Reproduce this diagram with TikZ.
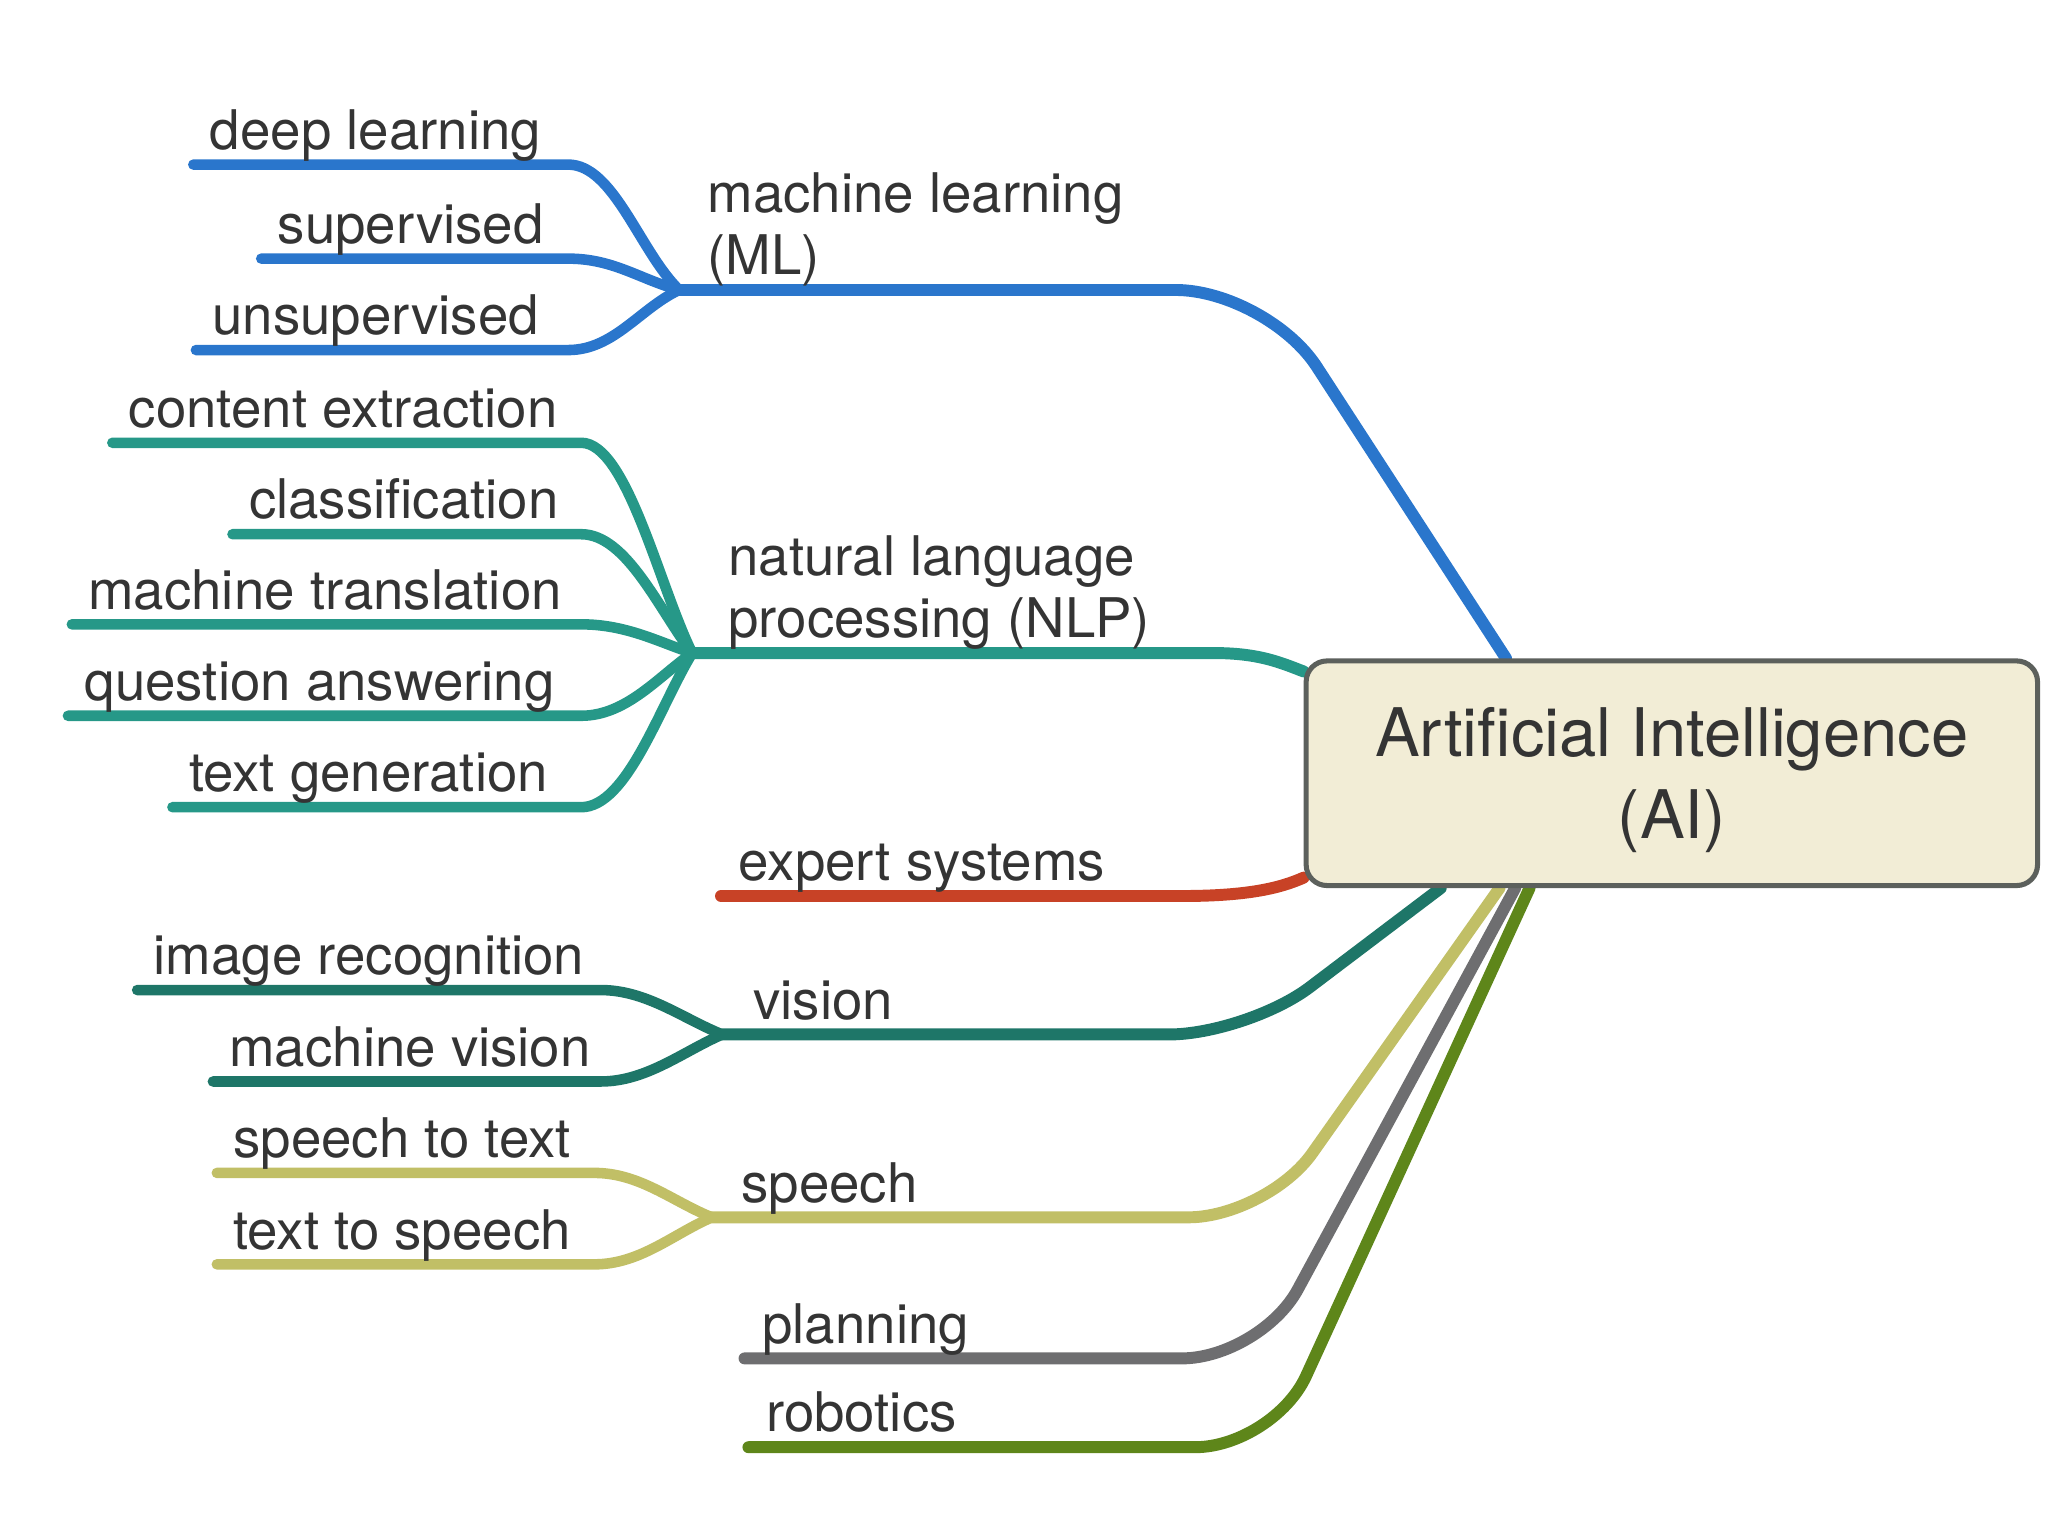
\documentclass[tikz,border=0pt]{standalone}
\usepackage{fontspec}
\setmainfont{TeX Gyre Heros}
\usetikzlibrary{calc,positioning,backgrounds}
\definecolor{mlblue}{RGB}{42,118,204}
\definecolor{nlpteal}{RGB}{38,152,136}
\definecolor{exred}{RGB}{200,66,38}
\definecolor{visteal}{RGB}{30,118,104}
\definecolor{spkhaki}{RGB}{193,191,102}
\definecolor{plgray}{RGB}{110,110,112}
\definecolor{roolive}{RGB}{94,134,26}
\definecolor{aifill}{RGB}{242,237,214}
\definecolor{aidraw}{RGB}{92,96,92}
\definecolor{txt}{RGB}{52,52,52}

\begin{document}
\begin{tikzpicture}[
    x=0.1mm, y=-0.1mm,
    every node/.style={text=txt},
    root/.style={rectangle, draw=aidraw, line width=1.1pt, fill=aifill, rounded corners=1.6mm, minimum width=56mm, minimum height=17.2mm, align=center, text depth=0pt, font=\fontsize{14.6}{17.9}\selectfont},
    leaf/.style={anchor=south west, inner xsep=1.2mm, inner ysep=0pt, text depth=1.1mm, font=\fontsize{11.9}{13.6}\selectfont},
    topic/.style={anchor=south west, inner xsep=1.3mm, inner ysep=0pt, text depth=1.1mm, align=left, font=\fontsize{11.9}{13.6}\selectfont},
    branch/.style={line width=2.6pt, line cap=round},
    twig/.style={line width=2.3pt, line cap=round}
]
\useasboundingbox (0,0) rectangle (1568,1176);

% ============ ROOT ============
\node[root] (ai) at (1280,592) {Artificial Intelligence\\(AI)};

\coordinate (mlin) at ($(ai.north west)+(155,0)$);
\coordinate (nlpin) at ($(ai.north west)+(0,10)$);
\coordinate (exin) at ($(ai.south west)+(0,-8)$);
\coordinate (visin) at ($(ai.south west)+(105,0)$);
\coordinate (spin) at ($(ai.south west)+(150,0)$);
\coordinate (plin) at ($(ai.south west)+(162,0)$);
\coordinate (roin) at ($(ai.south west)+(173,0)$);

% ============ MACHINE LEARNING ============
\coordinate (mlj) at (520,222);
\coordinate (mlend) at (435,222);
\node[topic] (ml) at (528,222) {machine learning\\(ML)};
\node[leaf] (dl) at (148,126) {deep learning};
\node[leaf] (sup) at (200,198) {supervised};
\node[leaf] (unsup) at (150,268) {unsupervised};

% ============ NLP ============
\coordinate (nlpj) at (530,500);
\coordinate (nlpend) at (445,500);
\node[topic] (nlp) at (544,500) {natural language\\processing (NLP)};
\node[leaf] (ce) at (86,339) {content extraction};
\node[leaf] (cls) at (178,409) {classification};
\node[leaf] (mt) at (55,478) {machine translation};
\node[leaf] (qa) at (52,548) {question answering};
\node[leaf] (tg) at (132,618) {text generation};

% ============ EXPERT SYSTEMS ============
\node[topic] (es) at (552,686) {expert systems};

% ============ VISION ============
\coordinate (visj) at (553,792);
\coordinate (visend) at (460,792);
\node[topic] (vis) at (563,792) {vision};
\node[leaf] (ir) at (105,758) {image recognition};
\node[leaf] (mv) at (163,828) {machine vision};

% ============ SPEECH ============
\coordinate (spj) at (545,932);
\coordinate (spend) at (455,932);
\node[topic] (sp) at (554,932) {speech};
\node[leaf] (stt) at (166,898) {speech to text};
\node[leaf] (tts) at (166,968) {text to speech};

% ============ PLANNING / ROBOTICS ============
\node[topic] (pl) at (570,1040) {planning};
\node[topic] (ro) at (573,1108) {robotics};

% ============ CONNECTORS ============
\begin{scope}[on background layer]
% main branches
\draw[branch, mlblue, rounded corners=7mm] (mlj) -- (970,222) -- (mlin);
\draw[branch, nlpteal] (nlpj) -- (930,500) .. controls (965,500) and (982,508) .. (nlpin);
\draw[branch, exred] (es.south west) -- (905,686) .. controls (955,686) and (980,680) .. (exin);
\draw[branch, visteal, rounded corners=6mm] (visj) -- (955,792) -- (visin);
\draw[branch, spkhaki, rounded corners=6mm] (spj) -- (970,932) -- (spin);
\draw[branch, plgray, rounded corners=6mm] (pl.south west) -- (965,1040) -- (plin);
\draw[branch, roolive, rounded corners=6mm] (ro.south west) -- (975,1108) -- (roin);

% ML leaves
\draw[twig, mlblue] (dl.south west) -- (dl.south west -| mlend) .. controls +(35,0) and +(-30,-29) .. (mlj);
\draw[twig, mlblue] (sup.south west) -- (sup.south west -| mlend) .. controls +(35,0) and +(-30,-8) .. (mlj);
\draw[twig, mlblue] (unsup.south west) -- (unsup.south west -| mlend) .. controls +(35,0) and +(-30,14) .. (mlj);

% NLP leaves
\draw[twig, nlpteal] (ce.south west) -- (ce.south west -| nlpend) .. controls +(35,0) and +(-25,-50) .. (nlpj);
\draw[twig, nlpteal] (cls.south west) -- (cls.south west -| nlpend) .. controls +(35,0) and +(-25,-32) .. (nlpj);
\draw[twig, nlpteal] (mt.south west) -- (mt.south west -| nlpend) .. controls +(35,0) and +(-25,-8) .. (nlpj);
\draw[twig, nlpteal] (qa.south west) -- (qa.south west -| nlpend) .. controls +(35,0) and +(-25,17) .. (nlpj);
\draw[twig, nlpteal] (tg.south west) -- (tg.south west -| nlpend) .. controls +(35,0) and +(-25,41) .. (nlpj);

% vision leaves
\draw[twig, visteal] (ir.south west) -- (ir.south west -| visend) .. controls +(35,0) and +(-30,-12) .. (visj);
\draw[twig, visteal] (mv.south west) -- (mv.south west -| visend) .. controls +(35,0) and +(-30,13) .. (visj);

% speech leaves
\draw[twig, spkhaki] (stt.south west) -- (stt.south west -| spend) .. controls +(35,0) and +(-30,-12) .. (spj);
\draw[twig, spkhaki] (tts.south west) -- (tts.south west -| spend) .. controls +(35,0) and +(-30,13) .. (spj);
\end{scope}

\end{tikzpicture}
\end{document}
